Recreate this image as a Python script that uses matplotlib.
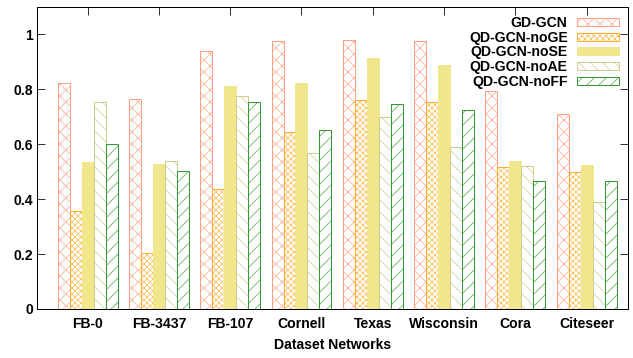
import numpy as np
import matplotlib
matplotlib.use("Agg")
import matplotlib.pyplot as plt
from matplotlib.legend_handler import HandlerTuple

datasets = ["FB-0", "FB-3437", "FB-107", "Cornell", "Texas", "Wisconsin", "Cora", "Citeseer"]
methods = ["GD-GCN", "QD-GCN-noGE", "QD-GCN-noSE", "QD-GCN-noAE", "QD-GCN-noFF"]

gd_gcn = [0.823, 0.764, 0.938, 0.977, 0.978, 0.976, 0.795, 0.711]
no_ge = [0.355, 0.204, 0.438, 0.646, 0.762, 0.753, 0.515, 0.497]
no_se = [0.535, 0.529, 0.812, 0.824, 0.912, 0.889, 0.538, 0.525]
no_ae = [0.753, 0.537, 0.774, 0.569, 0.700, 0.590, 0.521, 0.388]
no_ff = [0.600, 0.502, 0.753, 0.650, 0.746, 0.725, 0.465, 0.465]

series = [gd_gcn, no_ge, no_se, no_ae, no_ff]
edge_colors = ["#ff9f80", "#ffaa33", "#f0e68c", "#cfcb8c", "#339933"]
hatch_colors = ["#ffb8a0", "#ffc466", "#f0e68c", "#d8d4a0", "#5cb85c"]
hatches = ["xx", "xxxx", None, "\\\\", "//"]

plt.rcParams["font.family"] = ["Liberation Sans", "DejaVu Sans"]
plt.rcParams["font.weight"] = "bold"
plt.rcParams["hatch.linewidth"] = 0.8

fig = plt.figure(figsize=(633 / 72, 358 / 72), dpi=72)
ax = fig.add_axes([0.0585, 0.137, 0.9335, 0.844])

x = np.arange(len(datasets))
w = 0.168
handles = []
for i, vals in enumerate(series):
    pos = x + (i - 2) * w
    ec, hc, h = edge_colors[i], hatch_colors[i], hatches[i]
    if h is None:
        b = ax.bar(pos, vals, w, color=ec, edgecolor=ec, linewidth=1)
        handles.append(b)
    else:
        b1 = ax.bar(pos, vals, w, facecolor="white", edgecolor=hc, hatch=h, linewidth=0)
        b2 = ax.bar(pos, vals, w, facecolor="none", edgecolor=ec, linewidth=1)
        handles.append((b1, b2))

ax.set_xlim(-0.71, 7.58)
ax.set_ylim(0, 1.1)
ax.set_yticks([0, 0.2, 0.4, 0.6, 0.8, 1])
ax.set_yticklabels(["0", "0.2", "0.4", "0.6", "0.8", "1"])
ax.set_xticks(x)
ax.set_xticklabels(datasets)
ax.tick_params(axis="y", direction="in", length=8, right=True, labelsize=14, pad=4)
ax.tick_params(axis="x", direction="in", length=8, top=True, bottom=False,
               labelsize=14, pad=8)
ax.set_xlabel("Dataset Networks", fontsize=14, fontweight="bold", labelpad=7)
for s in ax.spines.values():
    s.set_linewidth(1)

leg = ax.legend(handles, methods, loc="upper right", markerfirst=False, frameon=False,
                fontsize=14, handlelength=3.0, handleheight=0.5, handletextpad=0.65,
                labelspacing=0.05, borderaxespad=0.3, borderpad=0.35,
                handler_map={tuple: HandlerTuple(ndivide=1, pad=0)})

fig.savefig("out.png", dpi=72)
